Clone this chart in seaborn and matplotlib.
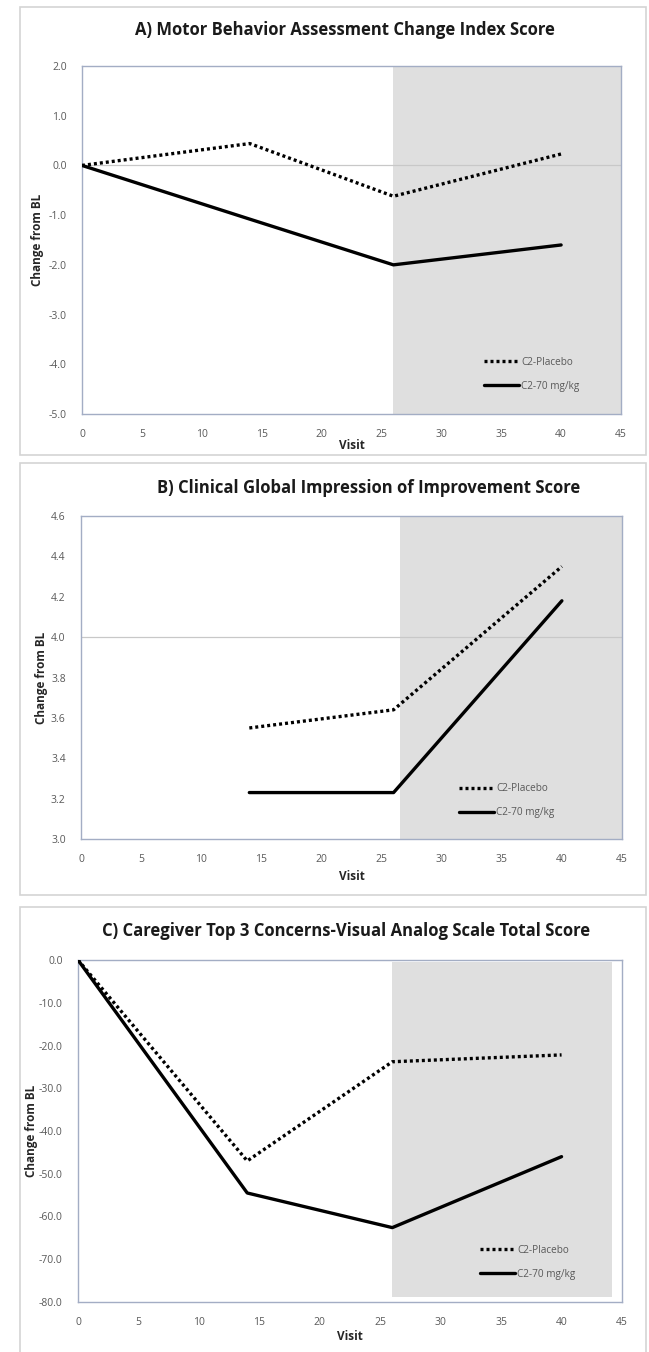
import matplotlib

matplotlib.use("Agg")
import matplotlib.pyplot as plt
import pandas as pd
import seaborn as sns
from matplotlib.patches import Rectangle

# data
groups = ["C2-Placebo", "C2-70 mg/kg"]

mba_visits = [0, 14, 26, 40]
mba_placebo = [0.0, 0.44, -0.62, 0.23]
mba_70 = [0.0, -1.08, -2.0, -1.6]

cgi_visits = [14, 26, 40]
cgi_placebo = [3.55, 3.64, 4.35]
cgi_70 = [3.23, 3.23, 4.18]

vas_visits = [0, 14, 26, 40]
vas_placebo = [0.0, -47.0, -23.8, -22.2]
vas_70 = [0.0, -54.5, -62.6, -46.0]

titles = [
    "A) Motor Behavior Assessment Change Index Score",
    "B) Clinical Global Impression of Improvement Score",
    "C) Caregiver Top 3 Concerns-Visual Analog Scale Total Score",
]
x_ticks = list(range(0, 50, 5))


def long_df(visits, placebo, treated):
    return pd.DataFrame(
        {
            "Visit": visits + visits,
            "value": placebo + treated,
            "group": [groups[0]] * len(visits) + [groups[1]] * len(visits),
        }
    )


W, H = 649, 1352
TEXT = "#595959"
SPINE = "#a3adc4"
FONT = ["Open Sans", "DejaVu Sans"]

sns.set_theme(style="white")
plt.rcParams["font.family"] = FONT

fig = plt.figure(figsize=(W / 100, H / 100), dpi=100)


def px_rect(left, top, right, bottom):
    return [left / W, 1 - bottom / H, (right - left) / W, (bottom - top) / H]


panels = [
    dict(
        df=long_df(mba_visits, mba_placebo, mba_70),
        title=titles[0],
        axes=(82, 66, 621, 414),
        border=(20, 7, 646, 455),
        ylim=(-5, 2), yticks=[-5, -4, -3, -2, -1, 0, 1, 2], fmt="{:.1f}",
        refline=0.0, shade=(26, 45, 0.0, 1.0),
        title_xy=(345, 30), xlabel_y=445, ylabel_x=38,
        legend_xy=(0.746, 0.165),
    ),
    dict(
        df=long_df(cgi_visits, cgi_placebo, cgi_70),
        title=titles[1],
        axes=(81, 516, 622, 839),
        border=(20, 463, 646, 895),
        ylim=(3.0, 4.6), yticks=[3.0, 3.2, 3.4, 3.6, 3.8, 4.0, 4.2, 4.4, 4.6], fmt="{:.1f}",
        refline=4.0, shade=(26.5, 45, 0.0, 1.0),
        title_xy=(369, 488), xlabel_y=876, ylabel_x=41,
        legend_xy=(0.699, 0.172),
    ),
    dict(
        df=long_df(vas_visits, vas_placebo, vas_70),
        title=titles[2],
        axes=(78, 960, 622, 1302),
        border=(20, 907, 646, 1360),
        ylim=(-80, 0), yticks=list(range(-80, 10, 10)), fmt="{:.1f}",
        refline=None, shade=(26, 44.2, 0.015, 0.994),
        title_xy=(346, 931), xlabel_y=1337, ylabel_x=31,
        legend_xy=(0.739, 0.168),
    ),
]

for p in panels:
    # light panel frame
    l, t, r, b = p["border"]
    fig.patches.append(
        Rectangle((l / W, 1 - b / H), (r - l) / W, (b - t) / H,
                  transform=fig.transFigure, fill=False,
                  edgecolor="#d4d4d4", linewidth=1.2)
    )

    ax = fig.add_axes(px_rect(*p["axes"]))
    x0, x1, y0, y1 = p["shade"]
    ax.axvspan(x0, x1, ymin=y0, ymax=y1, color="#dfdfdf", linewidth=0, zorder=0)
    if p["refline"] is not None:
        ax.axhline(p["refline"], color="#c8c8c8", linewidth=0.9, zorder=1)

    sns.lineplot(
        data=p["df"], x="Visit", y="value", style="group",
        style_order=groups,
        dashes={groups[0]: (0.9, 0.9), groups[1]: ""},
        color="black", linewidth=2.4, ax=ax, zorder=3,
    )

    ax.set_xlim(0, 45)
    ax.set_ylim(*p["ylim"])
    ax.set_xticks(x_ticks)
    ax.set_xticklabels([str(v) for v in x_ticks], color=TEXT, fontsize=7.5)
    ax.set_yticks(p["yticks"])
    ax.set_yticklabels([p["fmt"].format(v) for v in p["yticks"]], color=TEXT, fontsize=7.5)
    ax.tick_params(length=0, pad=11)
    ax.set_xlabel("")
    ax.set_ylabel("")
    for s in ax.spines.values():
        s.set_visible(True)
        s.set_color(SPINE)
        s.set_linewidth(1.0)

    handles, labels = ax.get_legend_handles_labels()
    leg = ax.legend(
        handles, labels, loc="upper left", bbox_to_anchor=p["legend_xy"],
        frameon=False, fontsize=7.2, handlelength=3.5, handletextpad=0.2,
        labelspacing=1.3, borderpad=0, borderaxespad=0,
    )
    for txt in leg.get_texts():
        txt.set_color(TEXT)

    tx, ty = p["title_xy"]
    fig.text(tx / W, 1 - ty / H, p["title"], ha="center", va="center",
             fontsize=12, fontweight="bold", color="#1a1a1a")
    al, at, ar, ab = p["axes"]
    fig.text((al + ar) / 2 / W, 1 - p["xlabel_y"] / H, "Visit",
             ha="center", va="center", fontsize=8.5, fontweight="bold", color="#262626")
    fig.text(p["ylabel_x"] / W, 1 - (at + ab) / 2 / H, "Change from BL",
             ha="center", va="center", rotation=90, fontsize=8.5,
             fontweight="bold", color="#262626")

fig.savefig("out.png", dpi=100, facecolor="white")
